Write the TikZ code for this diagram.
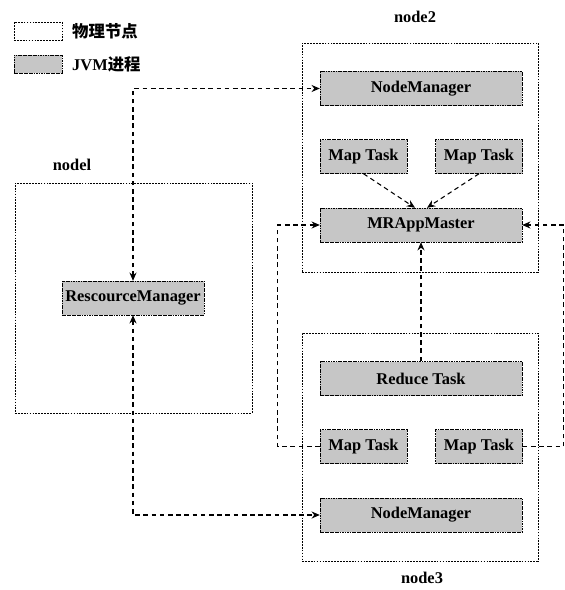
\documentclass[tikz,border=0pt]{standalone}
\usepackage{fontspec}
\setmainfont{Liberation Serif}
\newfontfamily\cjk{Noto Sans CJK SC}
\usetikzlibrary{arrows.meta}
\tikzset{
    host/.style={draw, thin, dash pattern=on 1.5pt off 1pt, minimum width=7.08cm, minimum height=6.87cm},
    jvm/.style={draw, thin, dash pattern=on 1.5pt off 0.6pt, fill=gray!45, font=\fontsize{14}{16}\selectfont\bfseries, minimum width=6.06cm, minimum height=1.02cm, inner sep=0pt},
    maptask/.style={jvm, minimum width=2.61cm},
    link/.style={line width=0.9pt, dash pattern=on 4pt off 3pt},
    lbl/.style={font=\fontsize{14}{16}\selectfont\bfseries}
}
\begin{document}
\begin{tikzpicture}[>={Stealth[length=7pt,width=6pt]}, x=0.03cm, y=-0.03cm]
\useasboundingbox (0,0) rectangle (565,590);
% legend
\node[draw, thin, dash pattern=on 1.5pt off 1pt, minimum width=1.44cm, minimum height=0.54cm] (keyhost) at (38,31) {};
\node[jvm, minimum width=1.44cm, minimum height=0.54cm] (keyjvm) at (38,64) {};
\node[lbl, right, inner sep=0pt] (keyhosttxt) at (72,31) {\cjk 物理节点};
\node[lbl, right, inner sep=0pt] (keyjvmtxt) at (72,64) {JVM\cjk 进程};

% physical nodes
\node[host, minimum width=7.11cm, minimum height=6.9cm] (node1) at (133.5,298) {};
\node[host] (node2) at (420,157.5) {};
\node[host, minimum height=6.84cm] (node3) at (420,447) {};
\node[lbl] (node1txt) at (72,165) {nodel};
\node[lbl] (node2txt) at (415,17) {node2};
\node[lbl] (node3txt) at (422,578) {node3};

% jvm processes
\node[jvm, minimum width=4.26cm] (rm) at (133,298) {RescourceManager};
\node[jvm] (nm2) at (421,88.5) {NodeManager};
\node[maptask] (map2l) at (363.5,156.5) {Map Task};
\node[maptask] (map2r) at (479,156.5) {Map Task};
\node[jvm] (mr) at (421,225) {MRAppMaster};
\node[jvm] (red) at (421,378.5) {Reduce Task};
\node[maptask] (map3l) at (363.5,446.5) {Map Task};
\node[maptask] (map3r) at (479,446.5) {Map Task};
\node[jvm] (nm3) at (421,515) {NodeManager};

% connections
\draw[link,<->] (rm.north) |- (nm2.west);
\draw[link,<->] (rm.south) |- (nm3.west);
\draw[link,->] (map2l.south) -- ([xshift=-0.18cm]mr.north);
\draw[link,->] (map2r.south) -- ([xshift=0.18cm]mr.north);
\draw[link,->] (red.north) -- (mr.south);
\draw[link,->] (map3l.west) -- ++(-42,0) |- (mr.west);
\draw[link,->] (map3r.east) -- ++(41,0) |- (mr.east);
\end{tikzpicture}
\end{document}
